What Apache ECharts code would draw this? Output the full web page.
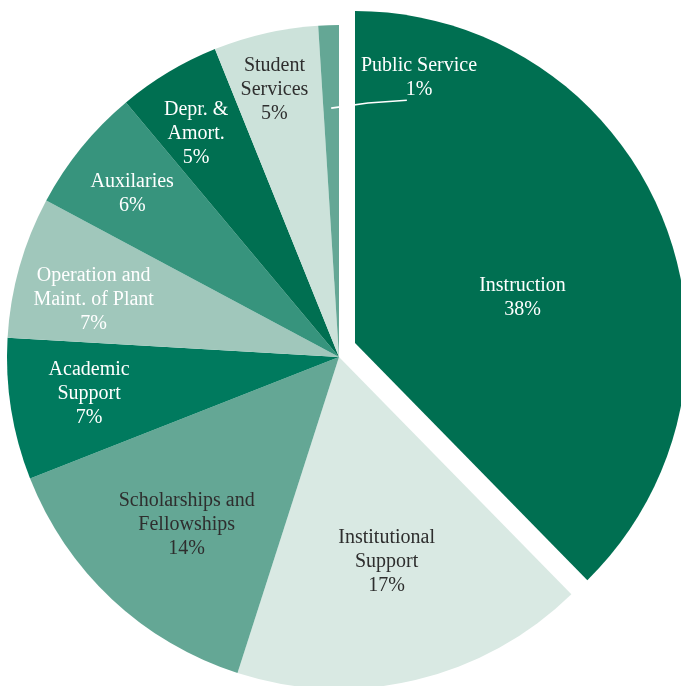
<!DOCTYPE html>
<html>
<head>
<meta charset="utf-8">
<script src="https://cdn.jsdelivr.net/npm/echarts@6/dist/echarts.min.js"></script>
<style>
  html, body { margin: 0; padding: 0; background: #ffffff; }
  #chart { width: 681px; height: 686px; }
</style>
</head>
<body>
<div id="chart"></div>
<script>
// ---- data ----
const categories = ['Instruction', 'Institutional Support', 'Scholarships and Fellowships', 'Academic Support',
  'Operation and Maint. of Plant', 'Auxilaries', 'Depr. & Amort.', 'Student Services', 'Public Service'];
const labelNames = ['Instruction', 'Institutional\nSupport', 'Scholarships and\nFellowships', 'Academic\nSupport',
  'Operation and\nMaint. of Plant', 'Auxilaries', 'Depr. &\nAmort.', 'Student\nServices', 'Public Service'];
const shares = [37.7, 17.3, 14.1, 6.9, 6.9, 6.1, 5.0, 5.1, 1.0];

// ---- styles / layout ----
const sliceColors = ['#006f51', '#d9e9e3', '#64a795', '#007a5e', '#a0c7bb', '#37947d', '#006f51', '#cce2da', '#64a795'];
const textColors = ['#ffffff', '#2e2e2e', '#2e2e2e', '#ffffff', '#ffffff', '#ffffff', '#ffffff', '#2e2e2e', '#ffffff'];
const CENTER = [339, 357];
const EXPLODED = [355, 343];
const R = 332;
const TEXT_NUDGE_Y = 2;
const CALLOUT = 8; // index of the slice labelled outside with a leader line
// label placement as [angle clockwise from top (deg), fraction of radius]
const labelPolar = [[74.3, 0.524], [166.8, 0.628], [222.5, 0.679], [262.0, 0.760], [283.5, 0.760],
  [308.6, 0.797], [327.6, 0.803], [346.5, 0.833], [15.9, 0.88]];
const leaderPolar = [[358.2, 0.75], [6.5, 0.77], [14.8, 0.80]];

function polar(c, a, f) {
  const rad = a * Math.PI / 180;
  return [c[0] + f * R * Math.sin(rad), c[1] - f * R * Math.cos(rad)];
}

const FONT = '"Liberation Serif", "DejaVu Serif", serif';
const CLEAR = 'rgba(0,0,0,0)';

// mode: 'exploded' (only first slice), 'main' (other slices), 'callout' (only the callout label)
function buildData(mode) {
  return categories.map((name, i) => {
    let fillOn, labelOn;
    if (mode === 'exploded') { fillOn = i === 0; labelOn = i === 0; }
    else if (mode === 'main') { fillOn = i !== 0; labelOn = i !== 0 && i !== CALLOUT; }
    else { fillOn = false; labelOn = i === CALLOUT; }
    const item = {
      name: name,
      value: shares[i],
      itemStyle: { color: fillOn ? sliceColors[i] : CLEAR },
      label: { show: labelOn, color: textColors[i] }
    };
    if (mode === 'callout' && i === CALLOUT) {
      item.label.position = 'outside';
      item.labelLine = { show: true, lineStyle: { color: '#ffffff', width: 1.6 } };
    }
    return item;
  });
}

function makeLayout(center) {
  return function (p) {
    const i = p.dataIndex;
    const c = i === 0 ? EXPLODED : center;
    const pt = polar(c, labelPolar[i][0], labelPolar[i][1]);
    const res = { x: pt[0], y: pt[1] + TEXT_NUDGE_Y, align: 'center', verticalAlign: 'middle' };
    if (i === CALLOUT) {
      res.labelLinePoints = leaderPolar.map(q => polar(CENTER, q[0], q[1]));
    }
    return res;
  };
}

const commonLabel = {
  position: 'inside',
  fontFamily: FONT,
  fontSize: 20,
  lineHeight: 24,
  align: 'center',
  formatter: p => labelNames[p.dataIndex] + '\n' + Math.round(p.value) + '%'
};

function pieSeries(mode, z, center) {
  return {
    type: 'pie',
    z: z,
    center: center,
    radius: R,
    startAngle: 90,
    clockwise: true,
    avoidLabelOverlap: false,
    silent: true,
    itemStyle: { borderWidth: 0 },
    label: commonLabel,
    labelLine: { show: false },
    labelLayout: makeLayout(center),
    data: buildData(mode)
  };
}

const chart = echarts.init(document.getElementById('chart'), null, { renderer: 'canvas' });
chart.setOption({
  backgroundColor: '#ffffff',
  animation: false,
  series: [
    pieSeries('exploded', 1, EXPLODED),
    pieSeries('main', 2, CENTER),
    pieSeries('callout', 3, CENTER)
  ]
});
</script>
</body>
</html>
